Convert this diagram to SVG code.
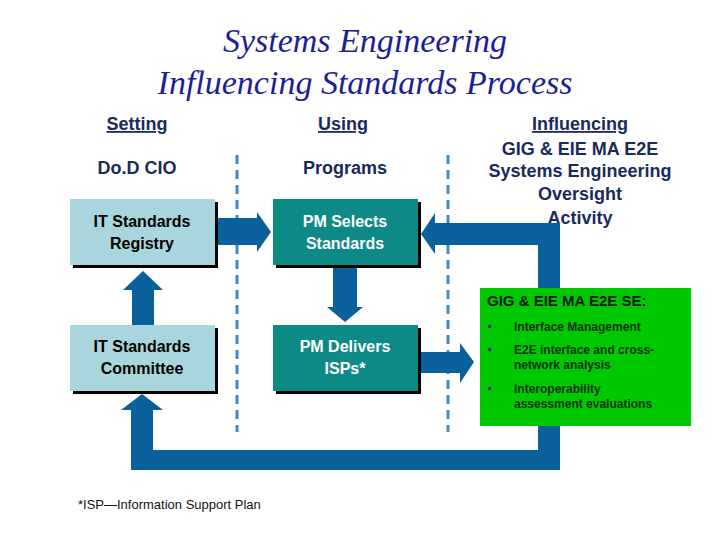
<svg xmlns="http://www.w3.org/2000/svg" width="720" height="540" viewBox="0 0 720 540">
<style>
.t{font-family:"Liberation Serif",serif;font-style:italic;font-size:34px;fill:#1e1e96;text-anchor:middle}
.h{font-family:"Liberation Sans",Arial,sans-serif;font-weight:bold;font-size:18px;fill:#1a2a5c;text-anchor:middle}
.b{font-family:"Liberation Sans",Arial,sans-serif;font-weight:bold;font-size:16px;text-anchor:middle}
.s{font-family:"Liberation Sans",Arial,sans-serif;font-weight:bold;font-size:12px;fill:#003300}
.a{fill:#0a609a}
.sh{fill:#000}
.lb{fill:#a9d6dc}
.tl{fill:#0e8a86}
.d{stroke:#3a8ccc;stroke-width:3;stroke-dasharray:9,6}
</style>
<rect width="720" height="540" fill="#fff"/>
<text class="t" x="365" y="52">Systems Engineering</text>
<text class="t" x="365" y="94">Influencing Standards Process</text>
<text class="h" x="137" y="130" text-decoration="underline">Setting</text>
<text class="h" x="343" y="130" text-decoration="underline">Using</text>
<text class="h" x="580" y="130" text-decoration="underline">Influencing</text>
<text class="h" x="580" y="155">GIG &amp; EIE MA E2E</text>
<text class="h" x="580" y="177">Systems Engineering</text>
<text class="h" x="580" y="200">Oversight</text>
<text class="h" x="580" y="224">Activity</text>
<text class="h" x="137" y="174" font-weight="normal" fill="#111">Do.D CIO</text>
<text class="h" x="345" y="174" font-weight="normal" fill="#111">Programs</text>
<g id="dividers">
<line class="d" x1="237" y1="155" x2="237" y2="432"/>
<line class="d" x1="448" y1="155" x2="448" y2="432"/>
</g>
<g id="connectors">
<path class="a" d="M217,218H257V212L271,232L257,252V245H217Z"/>
<path class="a" d="M333,267H357V307H363L345,322L327,307H333Z"/>
<path class="a" d="M132,325V290H123L143,271L163,290H154V325Z"/>
<path class="a" d="M420,352H460V343L474,362L460,383V373H420Z"/>
<path class="a" d="M560,290V223H435V213L421,234L435,254V245H538V290Z"/>
<path class="a" d="M538,426V450H153V410H163L142,394L121,410H131V470H560V426Z"/>
</g>
<g id="registry"><rect class="sh" x="73" y="202" width="145" height="66"/><rect class="lb" x="70" y="199" width="145" height="66"/>
<text class="b" x="142" y="227">IT Standards</text><text class="b" x="142" y="249">Registry</text></g>
<g id="committee"><rect class="sh" x="73" y="328" width="145" height="66"/><rect class="lb" x="70" y="325" width="145" height="66"/>
<text class="b" x="142" y="352">IT Standards</text><text class="b" x="142" y="374">Committee</text></g>
<g id="selects"><rect class="sh" x="276" y="202" width="145" height="66"/><rect class="tl" x="273" y="199" width="145" height="66"/>
<text class="b" x="345" y="227" fill="#fff">PM Selects</text><text class="b" x="345" y="249" fill="#fff">Standards</text></g>
<g id="delivers"><rect class="sh" x="276" y="328" width="145" height="66"/><rect class="tl" x="273" y="325" width="145" height="66"/>
<text class="b" x="345" y="352" fill="#fff">PM Delivers</text><text class="b" x="345" y="374" fill="#fff">ISPs*</text></g>
<g id="se"><rect x="480" y="288" width="211" height="138" fill="#00c800"/>
<text x="487" y="306" font-family="Liberation Sans,Arial,sans-serif" font-weight="bold" font-size="15" fill="#001a00">GIG &amp; EIE MA E2E SE:</text>
<rect x="488" y="325" width="3" height="3" fill="#1a1a8c"/><rect x="488" y="348" width="3" height="3" fill="#1a1a8c"/><rect x="488" y="387" width="3" height="3" fill="#1a1a8c"/>
<text class="s" x="514" y="331">Interface Management</text>
<text class="s" x="514" y="354">E2E interface and cross-</text><text class="s" x="514" y="369">network analysis</text>
<text class="s" x="514" y="393">Interoperability</text><text class="s" x="514" y="408">assessment evaluations</text></g>
<text x="78" y="509" font-family="Liberation Sans,Arial,sans-serif" font-size="13" fill="#111">*ISP—Information Support Plan</text>
</svg>
